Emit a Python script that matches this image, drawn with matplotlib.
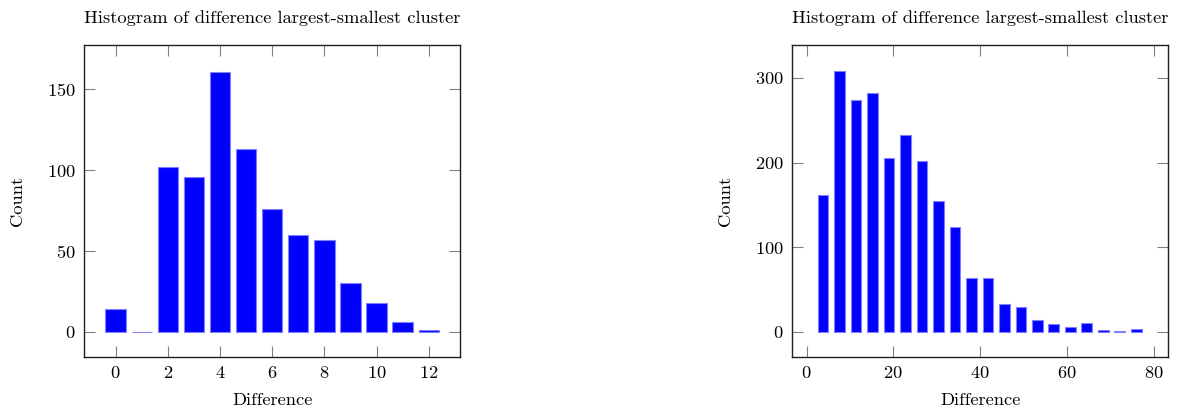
import matplotlib
matplotlib.use("Agg")
import matplotlib.pyplot as plt

plt.rcParams['font.family'] = ['cmr10', 'DejaVu Serif']
plt.rcParams['mathtext.fontset'] = 'cm'
plt.rcParams['axes.unicode_minus'] = False
plt.rcParams['axes.formatter.use_mathtext'] = True

# Left histogram data
left_x = [0, 1, 2, 3, 4, 5, 6, 7, 8, 9, 10, 11, 12]
left_counts = [14, 0, 102, 96, 161, 113, 76, 60, 57, 30, 18, 6, 1]
left_xticks = [0, 2, 4, 6, 8, 10, 12]
left_yticks = [0, 50, 100, 150]

# Right histogram data
right_x = [3.8, 7.6, 11.4, 15.2, 19.0, 22.8, 26.6, 30.4, 34.2, 38.0,
           41.8, 45.6, 49.4, 53.2, 57.0, 60.8, 64.6, 68.4, 72.2, 76.0]
right_counts = [162, 308, 274, 282, 205, 232, 202, 155, 124, 64,
                63, 33, 29, 14, 9, 5, 10, 2, 1, 3]
right_xticks = [0, 20, 40, 60, 80]
right_yticks = [0, 100, 200, 300]

title = "Histogram of difference largest-smallest cluster"
xlabel = "Difference"
ylabel = "Count"

FS = 13.3
fig = plt.figure(figsize=(11.87, 4.12), dpi=100)
ax1 = fig.add_axes([84.3 / 1187, 55 / 412, 375.7 / 1187, 312 / 412])
ax2 = fig.add_axes([792.3 / 1187, 55 / 412, 376 / 1187, 312 / 412])


def style(ax, xticks, yticks, xlim, ylim, ylabelpad):
    ax.set_xlim(*xlim)
    ax.set_ylim(*ylim)
    ax.set_xticks(xticks)
    ax.set_yticks(yticks)
    ax.tick_params(direction='in', length=8, width=0.8, color='#808080',
                   top=True, right=True, labelsize=FS, pad=6)
    for s in ax.spines.values():
        s.set_linewidth(1.0)
        s.set_color('#202020')
    ax.set_title(title, fontsize=FS, pad=16)
    ax.set_xlabel(xlabel, fontsize=FS, labelpad=8)
    ax.set_ylabel(ylabel, fontsize=FS, labelpad=ylabelpad)


ax1.bar(left_x, left_counts, width=0.78, color='#0000ff',
        edgecolor='#8080ff', linewidth=0.8)
style(ax1, left_xticks, left_yticks, (-1.2, 13.2), (-15.5, 177.4), 16)

ax2.bar(right_x, right_counts, width=2.46, color='#0000ff',
        edgecolor='#8080ff', linewidth=0.8)
style(ax2, right_xticks, right_yticks, (-3.3, 83.4), (-30, 339), 16)

fig.savefig("out.png", dpi=100)
